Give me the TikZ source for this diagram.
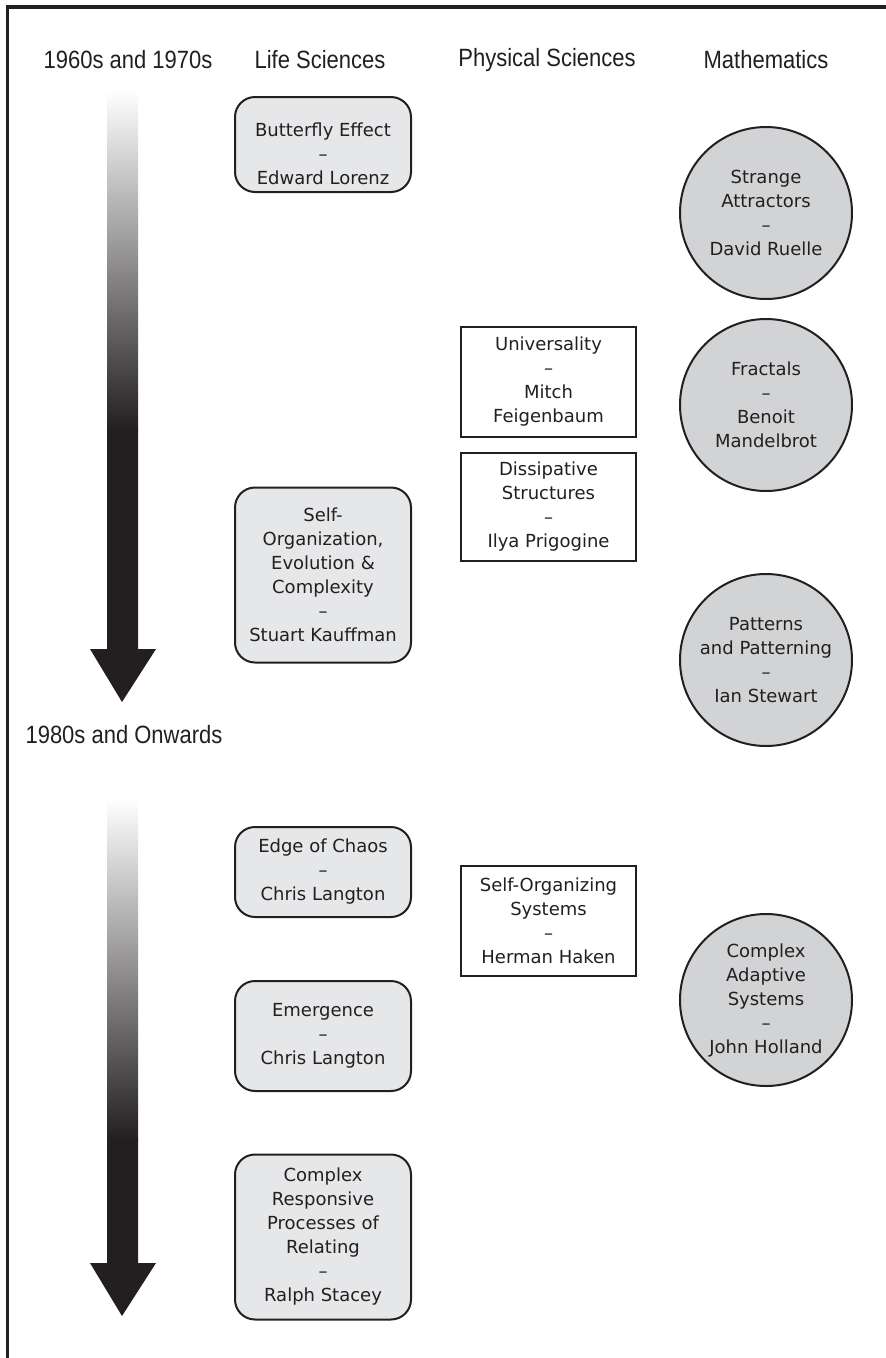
\documentclass[tikz,border=0pt]{standalone}
\usepackage{fontspec}
\setmainfont{DejaVu Sans}
\newfontfamily\headfont[FakeStretch=0.88]{Liberation Sans}
\definecolor{inkcol}{HTML}{231F20}
\definecolor{lifefill}{HTML}{E6E7E8}
\definecolor{mathfill}{HTML}{D1D3D4}
\tikzset{
  boxtext/.style={align=center, text=inkcol, inner sep=2pt,
    font=\fontsize{18}{24}\selectfont},
  lifebox/.style={boxtext, draw=inkcol, line width=2pt, fill=lifefill,
    rounded corners=20pt, minimum width=176pt},
  physbox/.style={boxtext, draw=inkcol, line width=2pt, fill=white,
    minimum width=175pt},
  mathcirc/.style={boxtext, circle, draw=inkcol, line width=2pt, fill=mathfill,
    minimum size=172pt},
  heading/.style={text=inkcol, inner sep=0pt, font=\headfont\fontsize{25}{28}\selectfont}
}
\begin{document}
\begin{tikzpicture}[x=1pt,y=-1pt]
\useasboundingbox (0,0) rectangle (886,1358);
\draw[line width=3.5pt, inkcol, line join=miter] (7.5,1358) -- (7.5,7) -- (886,7); % frame

% time arrows
\foreach \ytop/\ymid/\yhead in {90/430/649, 798/1140/1263}{
  \shade[top color=white, bottom color=inkcol] (107,\ytop) rectangle (138,\ymid);
  \fill[inkcol] (107,\ymid-0.5) -- (138,\ymid-0.5) -- (138,\yhead) -- (156,\yhead)
    -- (122,\yhead+53) -- (90,\yhead) -- (107,\yhead) -- cycle;
}

% headings
\node[heading] (era1) at (128,60) {1960s and 1970s};
\node[heading] (lifehd) at (320,60) {Life Sciences};
\node[heading] (physhd) at (547,60) {Physical Sciences};
\node[heading] (mathhd) at (766,60) {Mathematics};
\node[heading] (era2) at (124,735) {1980s and Onwards};

% life sciences
\node[lifebox, minimum height=95pt,
  label={[boxtext, yshift=-9pt]center:{Butterfly Effect\\–\\Edward Lorenz}}] (butterfly) at (323,144.5) {};
\node[lifebox, minimum height=175pt] (selforg) at (323,575) {Self-\\Organization,\\Evolution \&\\Complexity\\–\\Stuart Kauffman};
\node[lifebox, minimum height=90pt] (edgechaos) at (323,872) {Edge of Chaos\\–\\Chris Langton};
\node[lifebox, minimum height=110pt] (emergence) at (323,1036) {Emergence\\–\\Chris Langton};
\node[lifebox, minimum height=165pt] (responsive) at (323,1237) {Complex\\Responsive\\Processes of\\Relating\\–\\Ralph Stacey};

% physical sciences
\node[physbox, minimum height=110pt] (universality) at (548.5,382) {Universality\\–\\Mitch\\Feigenbaum};
\node[physbox, minimum height=108pt] (dissipative) at (548.5,507) {Dissipative\\Structures\\–\\Ilya Prigogine};
\node[physbox, minimum height=110pt] (haken) at (548.5,921) {Self-Organizing\\Systems\\–\\Herman Haken};

% mathematics
\node[mathcirc] (strange) at (766,213) {Strange\\Attractors\\–\\David Ruelle};
\node[mathcirc] (fractals) at (766,405) {Fractals\\–\\Benoit\\Mandelbrot};
\node[mathcirc] (patterns) at (766,660) {Patterns\\and Patterning\\–\\Ian Stewart};
\node[mathcirc] (adaptive) at (766,1000) {Complex\\Adaptive\\Systems\\–\\John Holland};
\end{tikzpicture}
\end{document}
